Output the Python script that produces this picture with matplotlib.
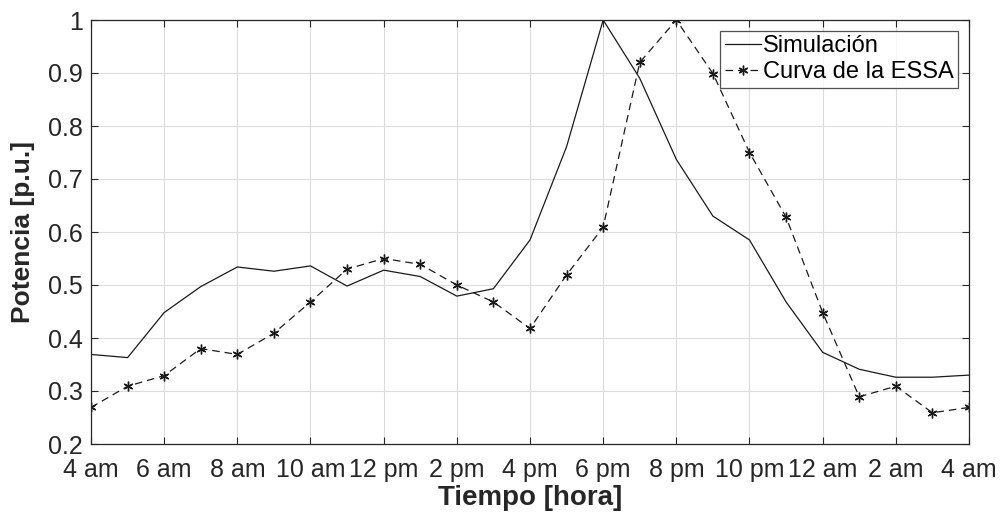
import matplotlib
matplotlib.use("Agg")
import matplotlib.pyplot as plt

hours = list(range(4, 29))
simulacion = [0.369, 0.363, 0.448, 0.497, 0.534, 0.526, 0.536, 0.498, 0.528, 0.516,
              0.479, 0.493, 0.585, 0.761, 1.000, 0.890, 0.737, 0.630, 0.585, 0.468,
              0.373, 0.341, 0.326, 0.326, 0.330]
essa = [0.269, 0.309, 0.329, 0.380, 0.369, 0.409, 0.468, 0.530, 0.550, 0.539,
        0.500, 0.468, 0.418, 0.519, 0.609, 0.920, 1.000, 0.899, 0.750, 0.628,
        0.448, 0.289, 0.309, 0.259, 0.269]
xtick_pos = list(range(4, 29, 2))
xtick_labels = ["4 am", "6 am", "8 am", "10 am", "12 pm", "2 pm", "4 pm", "6 pm",
                "8 pm", "10 pm", "12 am", "2 am", "4 am"]
yticks = [0.2, 0.3, 0.4, 0.5, 0.6, 0.7, 0.8, 0.9, 1.0]
ytick_labels = ["0.2", "0.3", "0.4", "0.5", "0.6", "0.7", "0.8", "0.9", "1"]

plt.rcParams['font.family'] = ['Liberation Sans', 'DejaVu Sans']

fig = plt.figure(figsize=(10.04, 5.2), dpi=100)
ax = fig.add_axes([91/1004, 76/520, 878/1004, 424/520])

ax.plot(hours, simulacion, color='#1a1a1a', lw=0.9, ls='-', label='Simulación')
ax.plot(hours, essa, color='#1a1a1a', lw=0.9, ls=(0, (6, 4)), marker=(6, 2, 0),
        markersize=7, markeredgewidth=1.0, label='Curva de la ESSA')

ax.set_xlim(4, 28)
ax.set_ylim(0.2, 1.0)
ax.set_xticks(xtick_pos)
ax.set_xticklabels(xtick_labels)
ax.set_yticks(yticks)
ax.set_yticklabels(ytick_labels)
ax.grid(True, color='#dcdcdc', lw=0.8)
ax.set_axisbelow(True)
ax.tick_params(direction='in', top=True, right=True, length=5,
               color='#262626', labelcolor='#262626')
ax.tick_params(axis='x', labelsize=18, pad=10)
ax.tick_params(axis='y', labelsize=18, pad=6)
for s in ax.spines.values():
    s.set_color('#262626')
    s.set_linewidth(0.9)

ax.set_xlabel('Tiempo [hora]', fontsize=20, fontweight='bold', color='#262626', labelpad=2)
ax.set_ylabel('Potencia [p.u.]', fontsize=19, fontweight='bold', color='#262626', labelpad=9)

leg = ax.legend(loc='upper right', fontsize=17, frameon=True, fancybox=False,
                edgecolor='#262626', borderpad=0.2, handlelength=1.5,
                handletextpad=0.1, labelspacing=0.15, borderaxespad=0.45)
leg.get_frame().set_linewidth(0.9)

fig.savefig('out.png', dpi=100)
